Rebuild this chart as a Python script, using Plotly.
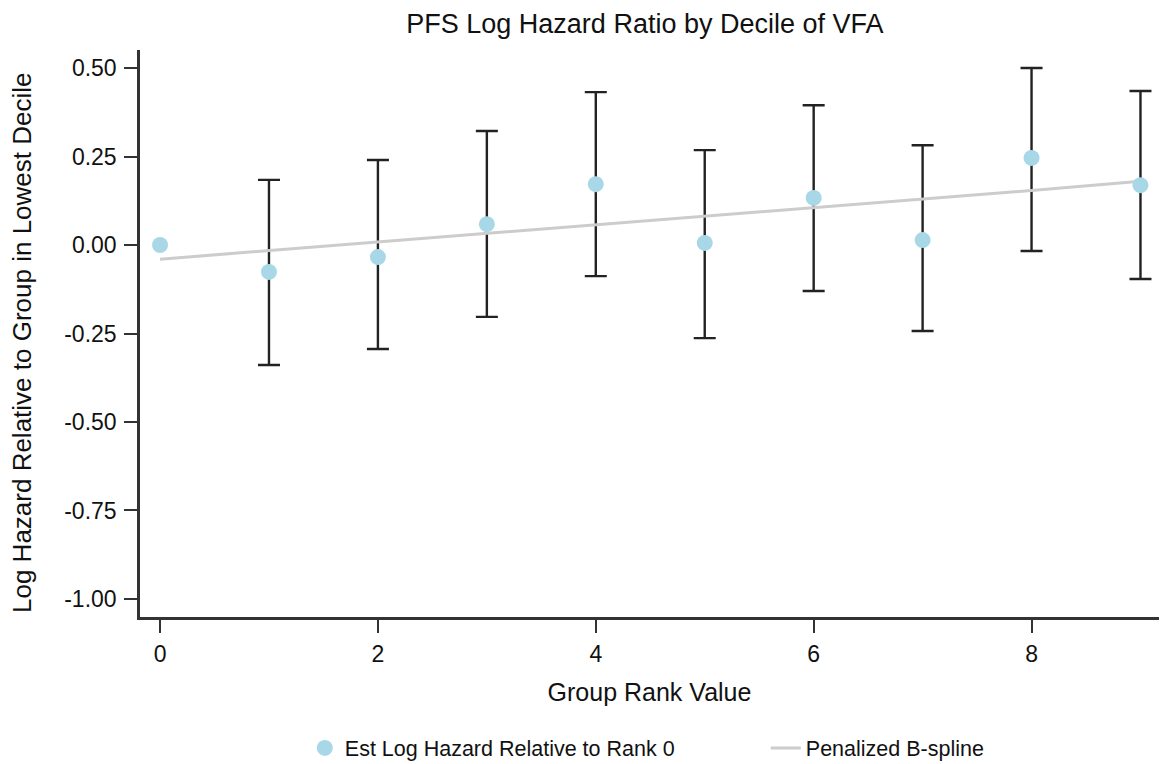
import plotly.graph_objects as go

ranks = [0, 1, 2, 3, 4, 5, 6, 7, 8, 9]
est_log_hazard = [0.000, -0.076, -0.034, 0.059, 0.172, 0.006, 0.133, 0.014, 0.246, 0.169]
ci_upper = [None, 0.184, 0.240, 0.322, 0.432, 0.268, 0.395, 0.282, 0.500, 0.435]
ci_lower = [None, -0.339, -0.294, -0.203, -0.088, -0.263, -0.130, -0.243, -0.017, -0.096]
spline = [-0.040, -0.016, 0.008, 0.032, 0.056, 0.080, 0.104, 0.128, 0.154, 0.180]

err_plus = [u - e for u, e in zip(ci_upper[1:], est_log_hazard[1:])]
err_minus = [e - l for l, e in zip(ci_lower[1:], est_log_hazard[1:])]

font_family = "Liberation Sans, Arial, sans-serif"

fig = go.Figure()

fig.add_trace(go.Scatter(
    x=ranks[1:], y=est_log_hazard[1:],
    mode="markers",
    marker=dict(size=1, color="rgba(0,0,0,0)"),
    error_y=dict(type="data", symmetric=False,
                 array=err_plus, arrayminus=err_minus,
                 color="#222222", thickness=2.4, width=11),
    showlegend=False, hoverinfo="skip",
))

fig.add_trace(go.Scatter(
    x=ranks, y=spline, mode="lines",
    line=dict(color="#CCCCCC", width=3),
    name="Penalized B-spline",
))

fig.add_trace(go.Scatter(
    x=ranks, y=est_log_hazard, mode="markers",
    marker=dict(size=16, color="#A8D8E8"),
    name="Est Log Hazard Relative to Rank 0",
))

fig.update_layout(
    width=1162, height=764,
    paper_bgcolor="white", plot_bgcolor="white",
    margin=dict(l=140, r=3, t=50, b=147),
    font=dict(family=font_family, size=20, color="#111111"),
    title=dict(text="PFS Log Hazard Ratio by Decile of VFA",
               x=0.555, xanchor="center", y=0.969, yanchor="middle",
               font=dict(size=27, family=font_family, color="#111111")),
    legend=dict(orientation="h", xref="container", yref="container",
                x=0.2623, xanchor="left", y=0.021, yanchor="middle",
                font=dict(size=21.5), traceorder="reversed",
                entrywidth=416, entrywidthmode="pixels"),
    showlegend=True,
    annotations=[dict(
        text="Log Hazard Relative to Group in Lowest Decile",
        xref="paper", yref="paper", x=-0.1158, y=0.485,
        xanchor="center", yanchor="middle", textangle=-90,
        showarrow=False, font=dict(size=26, family=font_family, color="#111111"),
    )],
)

fig.update_xaxes(
    range=[-0.184, 9.17], tickvals=[0, 2, 4, 6, 8],
    showline=True, linecolor="#333333", linewidth=2.5,
    ticks="outside", ticklen=13, tickwidth=2, tickcolor="#333333",
    showgrid=False, zeroline=False, automargin=False,
    ticklabelstandoff=2,
    title=dict(text="Group Rank Value", font=dict(size=25), standoff=18),
    tickfont=dict(size=23),
)
fig.update_yaxes(
    range=[-1.051, 0.551], tickvals=[0.5, 0.25, 0, -0.25, -0.5, -0.75, -1.0],
    ticktext=["0.50", "0.25", "0.00", "-0.25", "-0.50", "-0.75", "-1.00"],
    showline=True, linecolor="#333333", linewidth=2.5,
    ticks="outside", ticklen=13, tickwidth=2, tickcolor="#333333",
    showgrid=False, zeroline=False, automargin=False,
    ticklabelstandoff=3,
    tickfont=dict(size=23),
)

fig.write_html("out.html", config={"displayModeBar": False},
               post_script="document.body.style.margin='0px';")
